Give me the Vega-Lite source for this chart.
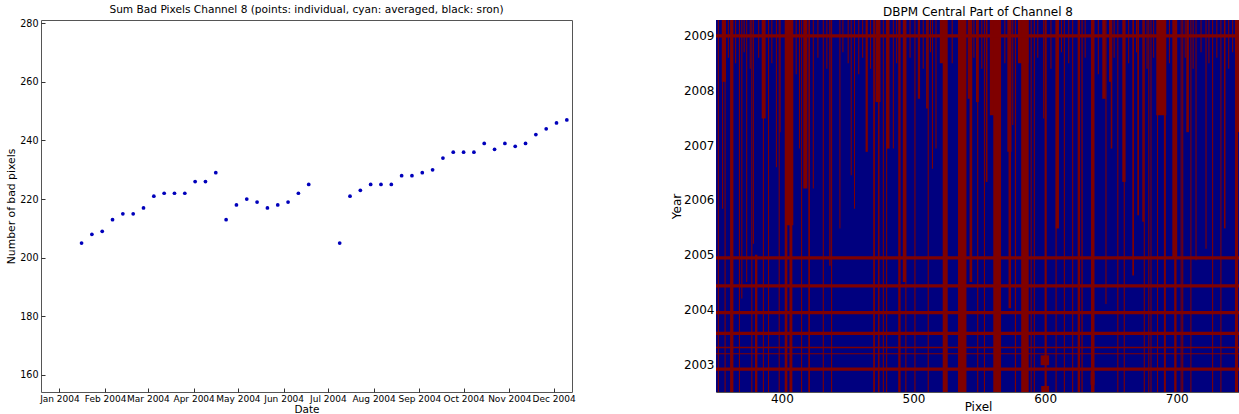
{
  "$schema": "https://vega.github.io/schema/vega-lite/v6.json",
  "background": "white",
  "padding": {"left": 5, "top": 4, "right": 0, "bottom": 0},
  "bounds": "flush",
  "spacing": 144,
  "config": {
    "font": "DejaVu Sans",
    "view": {"stroke": "#555555", "strokeWidth": 1},
    "axis": {"grid": false, "domain": false, "labelColor": "black", "titleColor": "black", "titleFontWeight": "normal", "tickColor": "#333333"},
    "title": {"fontWeight": "normal", "color": "black"}
  },
  "hconcat": [
    {
      "title": {"text": "Sum Bad Pixels Channel 8 (points: individual, cyan: averaged, black: sron)", "fontSize": 10.6, "offset": 3},
      "width": 531,
      "height": 372,
      "data": {"values": [
        {"date": "2004/01/16", "n": 205}, {"date": "2004/01/23", "n": 208}, {"date": "2004/01/30", "n": 209},
        {"date": "2004/02/06", "n": 213}, {"date": "2004/02/13", "n": 215}, {"date": "2004/02/20", "n": 215},
        {"date": "2004/02/27", "n": 217}, {"date": "2004/03/05", "n": 221}, {"date": "2004/03/12", "n": 222},
        {"date": "2004/03/19", "n": 222}, {"date": "2004/03/26", "n": 222}, {"date": "2004/04/02", "n": 226},
        {"date": "2004/04/09", "n": 226}, {"date": "2004/04/16", "n": 229}, {"date": "2004/04/23", "n": 213},
        {"date": "2004/04/30", "n": 218}, {"date": "2004/05/07", "n": 220}, {"date": "2004/05/14", "n": 219},
        {"date": "2004/05/21", "n": 217}, {"date": "2004/05/28", "n": 218}, {"date": "2004/06/04", "n": 219},
        {"date": "2004/06/11", "n": 222}, {"date": "2004/06/18", "n": 225},
        {"date": "2004/07/09", "n": 205}, {"date": "2004/07/16", "n": 221}, {"date": "2004/07/23", "n": 223},
        {"date": "2004/07/30", "n": 225}, {"date": "2004/08/06", "n": 225}, {"date": "2004/08/13", "n": 225},
        {"date": "2004/08/20", "n": 228}, {"date": "2004/08/27", "n": 228}, {"date": "2004/09/03", "n": 229},
        {"date": "2004/09/10", "n": 230}, {"date": "2004/09/17", "n": 234}, {"date": "2004/09/24", "n": 236},
        {"date": "2004/10/01", "n": 236}, {"date": "2004/10/08", "n": 236}, {"date": "2004/10/15", "n": 239},
        {"date": "2004/10/22", "n": 237}, {"date": "2004/10/29", "n": 239}, {"date": "2004/11/05", "n": 238},
        {"date": "2004/11/12", "n": 239}, {"date": "2004/11/19", "n": 242}, {"date": "2004/11/26", "n": 244},
        {"date": "2004/12/03", "n": 246}, {"date": "2004/12/10", "n": 247}
      ]},
      "mark": {"type": "point", "filled": true, "size": 14, "color": "#0000bb", "opacity": 1},
      "encoding": {
        "x": {
          "field": "date", "type": "temporal",
          "scale": {"domain": [{"year": 2003, "month": 12, "date": 19, "hours": 12}, {"year": 2004, "month": 12, "date": 13, "hours": 12}]},
          "axis": {"title": "Date", "titleFontSize": 10.5, "titlePadding": 1, "format": "%b %Y", "tickCount": {"interval": "month", "step": 1}, "labelFontSize": 9, "labelOverlap": false, "labelFlush": false, "tickSize": -4, "labelPadding": 6}
        },
        "y": {
          "field": "n", "type": "quantitative",
          "scale": {"domain": [154.2, 281.1], "nice": false, "zero": false},
          "axis": {"title": "Number of bad pixels", "titleFontSize": 10.8, "titlePadding": 3, "values": [160, 180, 200, 220, 240, 260, 280], "labelFontSize": 9.6, "tickSize": -4, "labelPadding": 7}
        }
      }
    },
    {
      "title": {"text": "DBPM Central Part of Channel 8", "fontSize": 12, "offset": 1},
      "width": 524,
      "height": 372,
      "data": {"values": [
        {"x1": 350, "x2": 748, "y1": 2002.49, "y2": 2009.29, "c": "good"},
        {"x1": 354.4, "x2": 357.6, "y1": 2008.16, "y2": 2009.29, "c": "bad"},
        {"x1": 354.6, "x2": 355.4, "y1": 2005.84, "y2": 2009.29, "c": "bad"},
        {"x1": 351.4, "x2": 352.2, "y1": 2002.49, "y2": 2009.29, "c": "bad"},
        {"x1": 356.5, "x2": 357.3, "y1": 2002.49, "y2": 2009.29, "c": "bad"},
        {"x1": 360.7, "x2": 363.2, "y1": 2002.49, "y2": 2009.29, "c": "bad"},
        {"x1": 367.4, "x2": 368.2, "y1": 2002.49, "y2": 2009.29, "c": "bad"},
        {"x1": 369.2, "x2": 370.0, "y1": 2004.2, "y2": 2009.29, "c": "bad"},
        {"x1": 372.9, "x2": 373.7, "y1": 2004.5, "y2": 2009.29, "c": "bad"},
        {"x1": 376.8, "x2": 377.6, "y1": 2002.49, "y2": 2009.29, "c": "bad"},
        {"x1": 378.0, "x2": 378.8, "y1": 2005.2, "y2": 2009.29, "c": "bad"},
        {"x1": 379.6, "x2": 381.4, "y1": 2002.49, "y2": 2005.0, "c": "bad"},
        {"x1": 384.7, "x2": 387.7, "y1": 2007.49, "y2": 2009.29, "c": "bad"},
        {"x1": 385.6, "x2": 386.4, "y1": 2002.49, "y2": 2009.29, "c": "bad"},
        {"x1": 389.5, "x2": 390.3, "y1": 2002.49, "y2": 2009.29, "c": "bad"},
        {"x1": 395.5, "x2": 396.3, "y1": 2006.6, "y2": 2009.29, "c": "bad"},
        {"x1": 397.6, "x2": 398.4, "y1": 2002.49, "y2": 2009.29, "c": "bad"},
        {"x1": 398.3, "x2": 399.1, "y1": 2007.24, "y2": 2009.29, "c": "bad"},
        {"x1": 402.2, "x2": 404.2, "y1": 2002.49, "y2": 2009.29, "c": "bad"},
        {"x1": 403.2, "x2": 408.7, "y1": 2005.54, "y2": 2009.29, "c": "bad"},
        {"x1": 405.8, "x2": 408.0, "y1": 2002.49, "y2": 2009.29, "c": "bad"},
        {"x1": 413.0, "x2": 413.8, "y1": 2006.94, "y2": 2009.29, "c": "bad"},
        {"x1": 414.6, "x2": 415.4, "y1": 2002.49, "y2": 2009.29, "c": "bad"},
        {"x1": 416.3, "x2": 419.4, "y1": 2006.21, "y2": 2009.29, "c": "bad"},
        {"x1": 420.1, "x2": 421.4, "y1": 2002.49, "y2": 2009.29, "c": "bad"},
        {"x1": 423.5, "x2": 424.3, "y1": 2006.21, "y2": 2009.29, "c": "bad"},
        {"x1": 431.1, "x2": 431.9, "y1": 2002.49, "y2": 2009.29, "c": "bad"},
        {"x1": 436.0, "x2": 437.0, "y1": 2004.8, "y2": 2009.29, "c": "bad"},
        {"x1": 437.4, "x2": 438.2, "y1": 2002.49, "y2": 2009.29, "c": "bad"},
        {"x1": 443.7, "x2": 444.5, "y1": 2005.48, "y2": 2009.29, "c": "bad"},
        {"x1": 452.3, "x2": 453.1, "y1": 2006.45, "y2": 2009.29, "c": "bad"},
        {"x1": 454.8, "x2": 455.6, "y1": 2005.84, "y2": 2009.29, "c": "bad"},
        {"x1": 463.6, "x2": 465.3, "y1": 2006.88, "y2": 2009.29, "c": "bad"},
        {"x1": 469.4, "x2": 470.7, "y1": 2002.49, "y2": 2009.29, "c": "bad"},
        {"x1": 471.2, "x2": 474.9, "y1": 2007.79, "y2": 2009.29, "c": "bad"},
        {"x1": 473.0, "x2": 474.2, "y1": 2002.49, "y2": 2009.29, "c": "bad"},
        {"x1": 476.7, "x2": 477.5, "y1": 2002.49, "y2": 2009.29, "c": "bad"},
        {"x1": 479.2, "x2": 481.8, "y1": 2006.94, "y2": 2009.29, "c": "bad"},
        {"x1": 479.2, "x2": 480.0, "y1": 2002.49, "y2": 2009.29, "c": "bad"},
        {"x1": 484.3, "x2": 485.1, "y1": 2006.94, "y2": 2009.29, "c": "bad"},
        {"x1": 488.4, "x2": 490.2, "y1": 2002.49, "y2": 2009.29, "c": "bad"},
        {"x1": 491.9, "x2": 494.4, "y1": 2004.5, "y2": 2009.29, "c": "bad"},
        {"x1": 493.8, "x2": 494.6, "y1": 2002.49, "y2": 2009.29, "c": "bad"},
        {"x1": 500.7, "x2": 501.5, "y1": 2002.49, "y2": 2009.29, "c": "bad"},
        {"x1": 503.3, "x2": 505.0, "y1": 2007.85, "y2": 2009.29, "c": "bad"},
        {"x1": 509.6, "x2": 510.9, "y1": 2007.67, "y2": 2009.29, "c": "bad"},
        {"x1": 510.8, "x2": 511.6, "y1": 2002.49, "y2": 2009.29, "c": "bad"},
        {"x1": 514.0, "x2": 514.8, "y1": 2006.57, "y2": 2009.29, "c": "bad"},
        {"x1": 516.7, "x2": 517.5, "y1": 2006.94, "y2": 2009.29, "c": "bad"},
        {"x1": 520.0, "x2": 523.8, "y1": 2008.5, "y2": 2009.29, "c": "bad"},
        {"x1": 522.2, "x2": 526.0, "y1": 2002.49, "y2": 2009.29, "c": "bad"},
        {"x1": 533.8, "x2": 540.2, "y1": 2002.49, "y2": 2009.29, "c": "bad"},
        {"x1": 541.2, "x2": 544.5, "y1": 2007.85, "y2": 2009.29, "c": "bad"},
        {"x1": 542.6, "x2": 544.6, "y1": 2004.5, "y2": 2009.29, "c": "bad"},
        {"x1": 547.5, "x2": 549.6, "y1": 2007.79, "y2": 2009.29, "c": "bad"},
        {"x1": 548.4, "x2": 549.2, "y1": 2002.49, "y2": 2009.29, "c": "bad"},
        {"x1": 553.5, "x2": 554.3, "y1": 2002.49, "y2": 2009.29, "c": "bad"},
        {"x1": 554.9, "x2": 556.2, "y1": 2006.33, "y2": 2009.29, "c": "bad"},
        {"x1": 558.0, "x2": 566.3, "y1": 2007.55, "y2": 2009.29, "c": "bad"},
        {"x1": 560.6, "x2": 566.5, "y1": 2002.49, "y2": 2009.29, "c": "bad"},
        {"x1": 571.3, "x2": 574.4, "y1": 2006.88, "y2": 2009.29, "c": "bad"},
        {"x1": 572.2, "x2": 574.1, "y1": 2004.02, "y2": 2009.29, "c": "bad"},
        {"x1": 575.0, "x2": 575.8, "y1": 2007.37, "y2": 2009.29, "c": "bad"},
        {"x1": 577.0, "x2": 577.9, "y1": 2002.49, "y2": 2009.29, "c": "bad"},
        {"x1": 579.4, "x2": 587.3, "y1": 2008.5, "y2": 2009.29, "c": "bad"},
        {"x1": 581.8, "x2": 587.5, "y1": 2002.49, "y2": 2009.29, "c": "bad"},
        {"x1": 589.0, "x2": 589.8, "y1": 2002.49, "y2": 2009.29, "c": "bad"},
        {"x1": 591.4, "x2": 592.2, "y1": 2002.49, "y2": 2009.29, "c": "bad"},
        {"x1": 598.5, "x2": 599.3, "y1": 2007.49, "y2": 2009.29, "c": "bad"},
        {"x1": 599.6, "x2": 601.2, "y1": 2002.49, "y2": 2009.29, "c": "bad"},
        {"x1": 596.6, "x2": 603.0, "y1": 2002.98, "y2": 2003.16, "c": "bad"},
        {"x1": 597.0, "x2": 603.0, "y1": 2002.49, "y2": 2002.6, "c": "bad"},
        {"x1": 608.0, "x2": 610.5, "y1": 2005.48, "y2": 2009.29, "c": "bad"},
        {"x1": 607.9, "x2": 608.7, "y1": 2002.49, "y2": 2009.29, "c": "bad"},
        {"x1": 614.2, "x2": 615.0, "y1": 2002.49, "y2": 2009.29, "c": "bad"},
        {"x1": 620.5, "x2": 621.3, "y1": 2002.49, "y2": 2009.29, "c": "bad"},
        {"x1": 624.7, "x2": 626.5, "y1": 2002.49, "y2": 2009.29, "c": "bad"},
        {"x1": 627.6, "x2": 628.5, "y1": 2002.49, "y2": 2009.29, "c": "bad"},
        {"x1": 634.8, "x2": 637.5, "y1": 2002.49, "y2": 2009.29, "c": "bad"},
        {"x1": 634.5, "x2": 637.5, "y1": 2002.62, "y2": 2002.85, "c": "bad"},
        {"x1": 643.4, "x2": 646.0, "y1": 2007.85, "y2": 2009.29, "c": "bad"},
        {"x1": 645.8, "x2": 646.6, "y1": 2004.1, "y2": 2009.29, "c": "bad"},
        {"x1": 648.5, "x2": 650.5, "y1": 2008.16, "y2": 2009.29, "c": "bad"},
        {"x1": 649.8, "x2": 651.0, "y1": 2006.94, "y2": 2009.29, "c": "bad"},
        {"x1": 654.8, "x2": 655.6, "y1": 2002.49, "y2": 2009.29, "c": "bad"},
        {"x1": 658.6, "x2": 661.1, "y1": 2006.33, "y2": 2009.29, "c": "bad"},
        {"x1": 659.7, "x2": 660.5, "y1": 2002.49, "y2": 2009.29, "c": "bad"},
        {"x1": 666.2, "x2": 667.5, "y1": 2004.62, "y2": 2009.29, "c": "bad"},
        {"x1": 670.0, "x2": 671.3, "y1": 2005.72, "y2": 2009.29, "c": "bad"},
        {"x1": 673.8, "x2": 675.0, "y1": 2005.6, "y2": 2009.29, "c": "bad"},
        {"x1": 674.9, "x2": 675.7, "y1": 2002.49, "y2": 2009.29, "c": "bad"},
        {"x1": 678.3, "x2": 679.1, "y1": 2002.49, "y2": 2009.29, "c": "bad"},
        {"x1": 680.0, "x2": 680.8, "y1": 2002.49, "y2": 2009.29, "c": "bad"},
        {"x1": 685.0, "x2": 685.8, "y1": 2002.49, "y2": 2009.29, "c": "bad"},
        {"x1": 684.4, "x2": 692.0, "y1": 2007.55, "y2": 2009.29, "c": "bad"},
        {"x1": 690.2, "x2": 691.7, "y1": 2002.49, "y2": 2009.29, "c": "bad"},
        {"x1": 696.6, "x2": 700.3, "y1": 2004.93, "y2": 2009.29, "c": "bad"},
        {"x1": 698.0, "x2": 699.8, "y1": 2002.49, "y2": 2009.29, "c": "bad"},
        {"x1": 702.9, "x2": 703.7, "y1": 2002.49, "y2": 2009.29, "c": "bad"},
        {"x1": 704.1, "x2": 704.9, "y1": 2002.49, "y2": 2009.29, "c": "bad"},
        {"x1": 707.2, "x2": 709.2, "y1": 2007.24, "y2": 2009.29, "c": "bad"},
        {"x1": 710.3, "x2": 711.1, "y1": 2002.49, "y2": 2009.29, "c": "bad"},
        {"x1": 714.2, "x2": 715.0, "y1": 2004.9, "y2": 2009.29, "c": "bad"},
        {"x1": 721.8, "x2": 722.6, "y1": 2005.11, "y2": 2009.29, "c": "bad"},
        {"x1": 726.8, "x2": 727.6, "y1": 2002.49, "y2": 2009.29, "c": "bad"},
        {"x1": 733.1, "x2": 733.9, "y1": 2002.49, "y2": 2009.29, "c": "bad"},
        {"x1": 735.8, "x2": 737.0, "y1": 2005.48, "y2": 2009.29, "c": "bad"},
        {"x1": 744.6, "x2": 747.6, "y1": 2007.24, "y2": 2009.29, "c": "bad"},
        {"x1": 744.2, "x2": 746.5, "y1": 2002.49, "y2": 2009.29, "c": "bad"},
        {"x1": 359.0, "x2": 359.8, "y1": 2008.6, "y2": 2009.29, "c": "bad"},
        {"x1": 364.5, "x2": 365.3, "y1": 2008.5, "y2": 2009.29, "c": "bad"},
        {"x1": 371.0, "x2": 371.8, "y1": 2008.7, "y2": 2009.29, "c": "bad"},
        {"x1": 375.6, "x2": 376.4, "y1": 2008.4, "y2": 2009.29, "c": "bad"},
        {"x1": 382.0, "x2": 382.8, "y1": 2008.6, "y2": 2009.29, "c": "bad"},
        {"x1": 392.0, "x2": 392.8, "y1": 2008.5, "y2": 2009.29, "c": "bad"},
        {"x1": 410.5, "x2": 411.3, "y1": 2008.3, "y2": 2009.29, "c": "bad"},
        {"x1": 427.0, "x2": 427.8, "y1": 2008.6, "y2": 2009.29, "c": "bad"},
        {"x1": 433.8, "x2": 434.6, "y1": 2008.4, "y2": 2009.29, "c": "bad"},
        {"x1": 446.0, "x2": 446.8, "y1": 2008.7, "y2": 2009.29, "c": "bad"},
        {"x1": 450.0, "x2": 450.8, "y1": 2008.5, "y2": 2009.29, "c": "bad"},
        {"x1": 458.0, "x2": 458.8, "y1": 2008.3, "y2": 2009.29, "c": "bad"},
        {"x1": 461.0, "x2": 461.8, "y1": 2008.6, "y2": 2009.29, "c": "bad"},
        {"x1": 467.0, "x2": 467.8, "y1": 2008.4, "y2": 2009.29, "c": "bad"},
        {"x1": 486.8, "x2": 487.6, "y1": 2008.5, "y2": 2009.29, "c": "bad"},
        {"x1": 497.0, "x2": 497.8, "y1": 2008.6, "y2": 2009.29, "c": "bad"},
        {"x1": 507.0, "x2": 507.8, "y1": 2008.4, "y2": 2009.29, "c": "bad"},
        {"x1": 512.5, "x2": 513.3, "y1": 2008.7, "y2": 2009.29, "c": "bad"},
        {"x1": 529.0, "x2": 529.8, "y1": 2008.5, "y2": 2009.29, "c": "bad"},
        {"x1": 545.5, "x2": 546.3, "y1": 2008.6, "y2": 2009.29, "c": "bad"},
        {"x1": 551.5, "x2": 552.3, "y1": 2008.4, "y2": 2009.29, "c": "bad"},
        {"x1": 569.0, "x2": 569.8, "y1": 2008.5, "y2": 2009.29, "c": "bad"},
        {"x1": 594.0, "x2": 594.8, "y1": 2008.6, "y2": 2009.29, "c": "bad"},
        {"x1": 604.0, "x2": 604.8, "y1": 2008.4, "y2": 2009.29, "c": "bad"},
        {"x1": 612.0, "x2": 612.8, "y1": 2008.7, "y2": 2009.29, "c": "bad"},
        {"x1": 617.5, "x2": 618.3, "y1": 2008.5, "y2": 2009.29, "c": "bad"},
        {"x1": 630.0, "x2": 630.8, "y1": 2008.6, "y2": 2009.29, "c": "bad"},
        {"x1": 640.0, "x2": 640.8, "y1": 2008.3, "y2": 2009.29, "c": "bad"},
        {"x1": 652.0, "x2": 652.8, "y1": 2008.6, "y2": 2009.29, "c": "bad"},
        {"x1": 663.0, "x2": 663.8, "y1": 2008.5, "y2": 2009.29, "c": "bad"},
        {"x1": 669.0, "x2": 669.8, "y1": 2008.7, "y2": 2009.29, "c": "bad"},
        {"x1": 677.0, "x2": 677.8, "y1": 2008.4, "y2": 2009.29, "c": "bad"},
        {"x1": 682.0, "x2": 682.8, "y1": 2008.6, "y2": 2009.29, "c": "bad"},
        {"x1": 694.0, "x2": 694.8, "y1": 2008.5, "y2": 2009.29, "c": "bad"},
        {"x1": 706.0, "x2": 706.8, "y1": 2008.6, "y2": 2009.29, "c": "bad"},
        {"x1": 712.0, "x2": 712.8, "y1": 2008.4, "y2": 2009.29, "c": "bad"},
        {"x1": 718.0, "x2": 718.8, "y1": 2008.7, "y2": 2009.29, "c": "bad"},
        {"x1": 724.0, "x2": 724.8, "y1": 2008.5, "y2": 2009.29, "c": "bad"},
        {"x1": 730.0, "x2": 730.8, "y1": 2008.6, "y2": 2009.29, "c": "bad"},
        {"x1": 739.0, "x2": 739.8, "y1": 2008.4, "y2": 2009.29, "c": "bad"},
        {"x1": 742.0, "x2": 742.8, "y1": 2008.7, "y2": 2009.29, "c": "bad"},
        {"x1": 350, "x2": 748, "y1": 2008.97, "y2": 2009.03, "c": "bad"},
        {"x1": 350, "x2": 748, "y1": 2004.91, "y2": 2004.97, "c": "bad"},
        {"x1": 350, "x2": 748, "y1": 2004.40, "y2": 2004.46, "c": "bad"},
        {"x1": 350, "x2": 748, "y1": 2003.91, "y2": 2003.97, "c": "bad"},
        {"x1": 350, "x2": 748, "y1": 2003.53, "y2": 2003.59, "c": "bad"},
        {"x1": 350, "x2": 748, "y1": 2003.29, "y2": 2003.315, "c": "bad"},
        {"x1": 350, "x2": 748, "y1": 2003.18, "y2": 2003.20, "c": "bad"},
        {"x1": 350, "x2": 748, "y1": 2002.88, "y2": 2002.94, "c": "bad"}
      ]},
      "mark": {"type": "rect", "clip": true},
      "encoding": {
        "x": {
          "field": "x1", "type": "quantitative",
          "scale": {"domain": [350, 748], "nice": false, "zero": false},
          "axis": {"title": "Pixel", "titleFontSize": 12, "titlePadding": -3, "values": [400, 500, 600, 700], "labelFontSize": 12, "tickSize": 0, "labelPadding": 1}
        },
        "x2": {"field": "x2"},
        "y": {
          "field": "y1", "type": "quantitative",
          "scale": {"domain": [2002.49, 2009.29], "nice": false, "zero": false},
          "axis": {"title": "Year", "titleFontSize": 12, "titlePadding": 0, "values": [2003, 2004, 2005, 2006, 2007, 2008, 2009], "format": "d", "labelFontSize": 12, "tickSize": 0, "labelPadding": 2}
        },
        "y2": {"field": "y2"},
        "color": {"field": "c", "type": "nominal", "scale": {"domain": ["good", "bad"], "range": ["#00007f", "#7f0000"]}, "legend": null}
      }
    }
  ]
}
